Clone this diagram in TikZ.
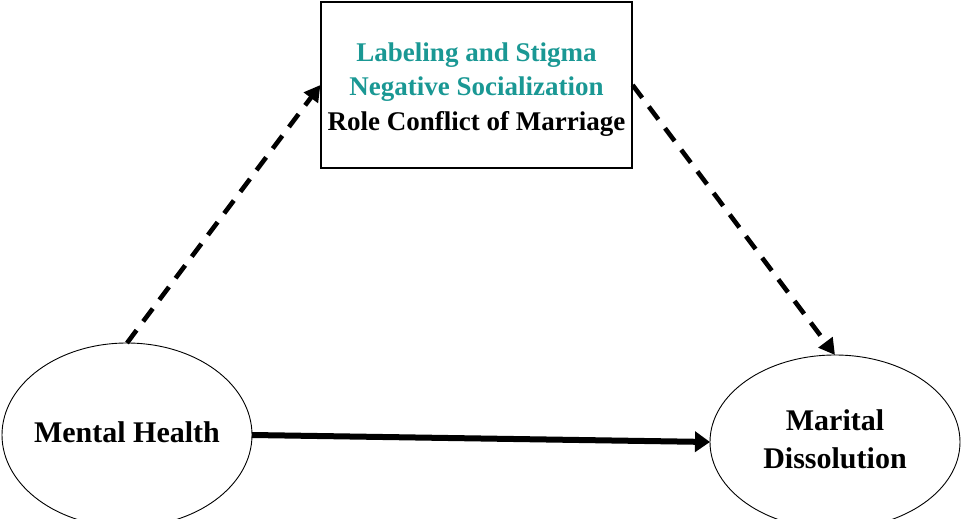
\documentclass[tikz,border=0pt]{standalone}
\usepackage{fontspec}
\setmainfont{Liberation Serif}
\usetikzlibrary{arrows.meta,shapes.geometric}
\definecolor{tealtext}{RGB}{26,152,148}
\tikzset{
  medbox/.style={draw, line width=1.2pt, minimum width=311pt, minimum height=166pt, inner sep=0pt, align=center,
    font=\fontsize{27}{34.5}\selectfont\bfseries},
  varell/.style={draw, ellipse, line width=0.9pt, inner sep=0pt, outer sep=0pt, align=center,
    font=\fontsize{30}{38}\selectfont\bfseries},
  dasharrow/.style={line width=4.6pt, dash pattern=on 16pt off 11pt, -{Triangle[length=16pt,width=17pt]}},
  mainarrow/.style={line width=6pt, -{Triangle[length=15pt,width=20pt]}}
}
\begin{document}
\begin{tikzpicture}[x=1pt,y=-1pt]
\useasboundingbox (0,0) rectangle (962,519);
\clip (0,0) rectangle (962,519);
\node[medbox] (box) at (476.5,85) {\raisebox{-4pt}[\height][\depth]{\begin{tabular}{@{}c@{}}\textcolor{tealtext}{Labeling and Stigma}\\\textcolor{tealtext}{Negative Socialization}\\Role Conflict of Marriage\end{tabular}}};
\node[varell, minimum width=250pt, minimum height=184pt] (mh) at (127,435) {\makebox[0pt]{\raisebox{-7pt}[0pt][0pt]{Mental Health}}};
\node[varell, minimum width=250pt, minimum height=174pt] (md) at (835,442) {\makebox[0pt]{\begin{tabular}{@{}c@{}}Marital\\Dissolution\end{tabular}}};
\draw[dasharrow] (mh.north) -- (box.west);
\draw[dasharrow] (box.east) -- (md.north);
\draw[mainarrow] (mh.east) -- (md.west);
\end{tikzpicture}
\end{document}
